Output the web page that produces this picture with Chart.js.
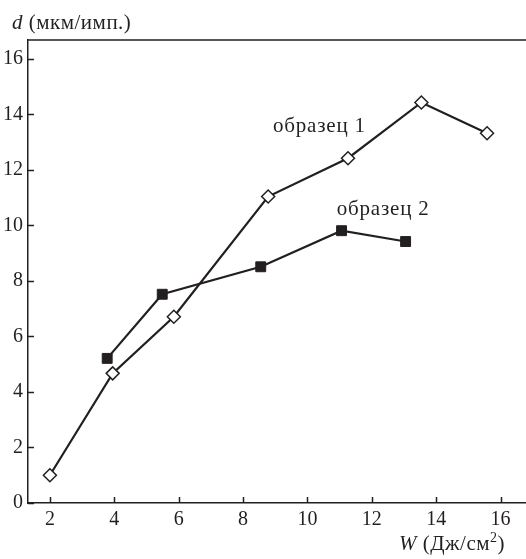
<!DOCTYPE html>
<html>
<head>
<meta charset="utf-8">
<script src="https://cdn.jsdelivr.net/npm/chart.js@4"></script>
<style>
  html, body { margin: 0; padding: 0; background: #fff; overflow: hidden; }
  canvas { display: block; }
</style>
</head>
<body>
<canvas id="chart" width="526" height="559"></canvas>
<script>
// values
const sample1W = [2.0, 3.95, 5.85, 8.78, 11.26, 13.54, 15.58];
const sample1D = [1.0, 4.67, 6.71, 11.04, 12.42, 14.43, 13.32];
const sample2W = [3.78, 5.49, 8.55, 11.06, 13.05];
const sample2D = [5.21, 7.52, 8.51, 9.81, 9.42];
const xTicks = [2, 4, 6, 8, 10, 12, 14, 16];
const yTicks = [0, 2, 4, 6, 8, 10, 12, 14, 16];
const seriesNames = ['образец 1', 'образец 2'];

const ink = '#231f20';
const serif = '"Liberation Serif", "DejaVu Serif", serif';

// where the series names sit, in data units (left edge, baseline)
const nameAnchors = [[8.93, 13.37], [10.91, 10.37]];

function toPoints(xs, ys) {
    return xs.map((v, i) => ({ x: v, y: ys[i] }));
}

const frame = {
    id: 'frame',
    afterDraw(chart) {
        const { ctx, chartArea: a, scales: { x, y } } = chart;
        ctx.save();
        ctx.strokeStyle = ink;
        ctx.lineWidth = 1.5;
        ctx.beginPath();
        // top line of the frame
        ctx.moveTo(a.left, a.top);
        ctx.lineTo(a.right, a.top);
        // inward ticks
        xTicks.forEach(v => {
            const px = Math.round(x.getPixelForValue(v)) + 0.5;
            ctx.moveTo(px, a.bottom);
            ctx.lineTo(px, a.bottom - 6);
        });
        yTicks.forEach(v => {
            const py = Math.round(y.getPixelForValue(v)) + 0.5;
            ctx.moveTo(a.left, py);
            ctx.lineTo(a.left + 6, py);
        });
        ctx.stroke();

        ctx.fillStyle = ink;
        ctx.textBaseline = 'alphabetic';
        ctx.textAlign = 'left';
        ctx.letterSpacing = '0.8px';

        // series names
        ctx.font = '21px ' + serif;
        seriesNames.forEach((name, i) => {
            const [vx, vy] = nameAnchors[i];
            ctx.fillText(name, x.getPixelForValue(vx), y.getPixelForValue(vy));
        });

        // y axis title
        ctx.letterSpacing = '0.5px';
        let cx = 12;
        ctx.font = 'italic 21px ' + serif;
        ctx.fillText('d', cx, 29);
        cx += ctx.measureText('d').width;
        ctx.font = '21px ' + serif;
        ctx.fillText(' (мкм/имп.)', cx, 29);

        // x axis title, right end at about 505
        const by = 550;
        const parts = [
            ['W', 'italic 21px ', 0],
            [' (Дж/см', '21px ', 0],
            ['2', '14px ', -8],
            [')', '21px ', 0]
        ];
        let total = 0;
        parts.forEach(p => { ctx.font = p[1] + serif; total += ctx.measureText(p[0]).width; });
        cx = 505 - total;
        parts.forEach(p => {
            ctx.font = p[1] + serif;
            ctx.fillText(p[0], cx, by + p[2]);
            cx += ctx.measureText(p[0]).width;
        });
        ctx.restore();
    }
};

const ctx = document.getElementById('chart').getContext('2d');
const chart = new Chart(ctx, {
    type: 'scatter',
    data: {
        datasets: [
            {
                label: seriesNames[0],
                data: toPoints(sample1W, sample1D),
                showLine: true,
                borderColor: ink,
                borderWidth: 2.2,
                pointStyle: 'rectRot',
                pointRadius: 6.5,
                pointBackgroundColor: '#fff',
                pointBorderColor: ink,
                pointBorderWidth: 1.5,
            },
            {
                label: seriesNames[1],
                data: toPoints(sample2W, sample2D),
                showLine: true,
                borderColor: ink,
                borderWidth: 2.2,
                pointStyle: 'rect',
                pointRadius: 7,
                pointBackgroundColor: ink,
                pointBorderColor: ink,
                pointBorderWidth: 1,
            }
        ]
    },
    options: {
        responsive: false,
        animation: false,
        devicePixelRatio: 1,
        layout: { autoPadding: false, padding: { top: 40, right: 0, left: 0, bottom: 0 } },
        plugins: {
            legend: { display: false },
            tooltip: { enabled: false },
        },
        scales: {
            x: {
                type: 'linear',
                min: 1.32,
                max: 16.79,
                grid: { display: false, drawTicks: false },
                border: { display: true, color: ink, width: 1.5 },
                afterBuildTicks: s => { s.ticks = xTicks.map(v => ({ value: v })); },
                afterFit: s => { s.height = 56; s.paddingLeft = 0; s.paddingRight = 0; },
                ticks: {
                    color: ink,
                    padding: 5,
                    maxRotation: 0,
                    font: { family: serif, size: 20 },
                },
            },
            y: {
                type: 'linear',
                min: 0,
                max: 16.68,
                grid: { display: false, drawTicks: false },
                border: { display: true, color: ink, width: 1.5 },
                afterBuildTicks: s => { s.ticks = yTicks.map(v => ({ value: v })); },
                afterFit: s => { s.width = 28; s.paddingTop = 0; s.paddingBottom = 0; },
                ticks: {
                    color: ink,
                    padding: 5,
                    font: { family: serif, size: 20 },
                },
            }
        }
    },
    plugins: [frame]
});
</script>
</body>
</html>
